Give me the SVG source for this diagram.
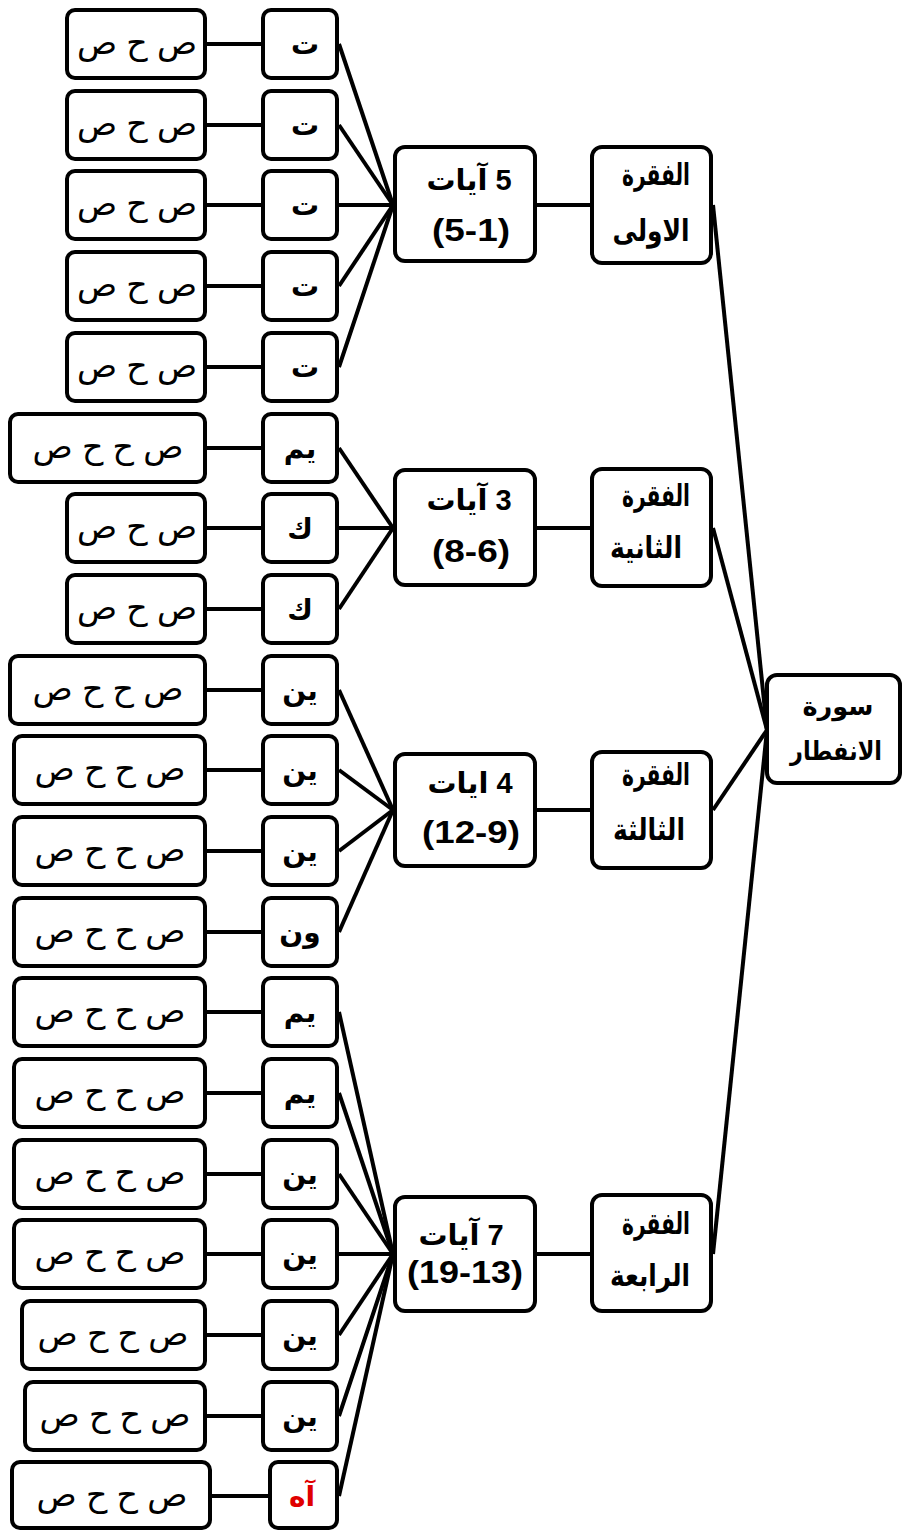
<svg xmlns="http://www.w3.org/2000/svg" width="903" height="1530" viewBox="0 0 903 1530">
<style>
rect{fill:#fff;stroke:#000;stroke-width:4}
line{stroke:#000;stroke-width:4}
text{font-family:"Liberation Sans","DejaVu Sans",sans-serif;font-weight:bold;font-size:28px;fill:#000;text-anchor:middle;direction:rtl;unicode-bidi:embed}
.s{font-size:33px;font-weight:normal}
.p{font-size:30px}
.m{font-size:26px}
.a{font-size:29px}
.d{font-size:31px;direction:ltr}
.r{fill:#e00000}
</style>
<rect x="0" y="0" width="903" height="1530" style="stroke:none"/>
<g id="connectors">
<line x1="207" y1="44" x2="263" y2="44"/>
<line x1="207" y1="125" x2="263" y2="125"/>
<line x1="207" y1="205" x2="263" y2="205"/>
<line x1="207" y1="286" x2="263" y2="286"/>
<line x1="207" y1="367" x2="263" y2="367"/>
<line x1="207" y1="448" x2="263" y2="448"/>
<line x1="207" y1="528" x2="263" y2="528"/>
<line x1="207" y1="609" x2="263" y2="609"/>
<line x1="207" y1="690" x2="263" y2="690"/>
<line x1="207" y1="770" x2="263" y2="770"/>
<line x1="207" y1="851" x2="263" y2="851"/>
<line x1="207" y1="932" x2="263" y2="932"/>
<line x1="207" y1="1012" x2="263" y2="1012"/>
<line x1="207" y1="1093" x2="263" y2="1093"/>
<line x1="207" y1="1174" x2="263" y2="1174"/>
<line x1="207" y1="1254" x2="263" y2="1254"/>
<line x1="207" y1="1335" x2="263" y2="1335"/>
<line x1="207" y1="1416" x2="263" y2="1416"/>
<line x1="212" y1="1496" x2="270" y2="1496"/>
<line x1="339" y1="44" x2="393" y2="205"/>
<line x1="339" y1="125" x2="393" y2="205"/>
<line x1="339" y1="205" x2="393" y2="205"/>
<line x1="339" y1="286" x2="393" y2="205"/>
<line x1="339" y1="367" x2="393" y2="205"/>
<line x1="339" y1="448" x2="393" y2="528"/>
<line x1="339" y1="528" x2="393" y2="528"/>
<line x1="339" y1="609" x2="393" y2="528"/>
<line x1="339" y1="690" x2="393" y2="810"/>
<line x1="339" y1="770" x2="393" y2="810"/>
<line x1="339" y1="851" x2="393" y2="810"/>
<line x1="339" y1="932" x2="393" y2="810"/>
<line x1="339" y1="1012" x2="393" y2="1254"/>
<line x1="339" y1="1093" x2="393" y2="1254"/>
<line x1="339" y1="1174" x2="393" y2="1254"/>
<line x1="339" y1="1254" x2="393" y2="1254"/>
<line x1="339" y1="1335" x2="393" y2="1254"/>
<line x1="339" y1="1416" x2="393" y2="1254"/>
<line x1="339" y1="1496" x2="393" y2="1254"/>
<line x1="537" y1="205" x2="590" y2="205"/>
<line x1="537" y1="528" x2="590" y2="528"/>
<line x1="537" y1="810" x2="590" y2="810"/>
<line x1="537" y1="1254" x2="590" y2="1254"/>
<line x1="713" y1="205" x2="767" y2="730"/>
<line x1="713" y1="528" x2="767" y2="730"/>
<line x1="713" y1="810" x2="767" y2="730"/>
<line x1="713" y1="1254" x2="767" y2="730"/>
</g>
<g id="main"><rect x="767" y="675" width="133" height="108" rx="10"/><text class="m" x="838" y="715" textLength="71" lengthAdjust="spacingAndGlyphs">سورة</text><text class="m" x="836" y="760" textLength="92" lengthAdjust="spacingAndGlyphs">الانفطار</text></g>
<g id="p1"><rect x="592" y="147" width="119" height="116" rx="10"/><text class="p" x="656" y="185" textLength="68" lengthAdjust="spacingAndGlyphs">الفقرة</text><text class="p" x="651" y="241" textLength="77" lengthAdjust="spacingAndGlyphs">الاولى</text></g>
<g id="p2"><rect x="592" y="469" width="119" height="117" rx="10"/><text class="p" x="656" y="506" textLength="68" lengthAdjust="spacingAndGlyphs">الفقرة</text><text class="p" x="646" y="558" textLength="72" lengthAdjust="spacingAndGlyphs">الثانية</text></g>
<g id="p3"><rect x="592" y="752" width="119" height="116" rx="10"/><text class="p" x="656" y="785" textLength="68" lengthAdjust="spacingAndGlyphs">الفقرة</text><text class="p" x="649" y="840" textLength="72" lengthAdjust="spacingAndGlyphs">الثالثة</text></g>
<g id="p4"><rect x="592" y="1195" width="119" height="116" rx="10"/><text class="p" x="656" y="1234" textLength="68" lengthAdjust="spacingAndGlyphs">الفقرة</text><text class="p" x="650" y="1286" textLength="80" lengthAdjust="spacingAndGlyphs">الرابعة</text></g>
<g id="a1"><rect x="395" y="147" width="140" height="114" rx="10"/><text class="a" x="469" y="190">5 آيات</text><text class="d" x="471" y="241" textLength="78" lengthAdjust="spacingAndGlyphs">(5-1)</text></g>
<g id="a2"><rect x="395" y="470" width="140" height="115" rx="10"/><text class="a" x="469" y="510">3 آيات</text><text class="d" x="471" y="562" textLength="78" lengthAdjust="spacingAndGlyphs">(8-6)</text></g>
<g id="a3"><rect x="395" y="754" width="140" height="112" rx="10"/><text class="a" x="470" y="793">4 ايات</text><text class="d" x="471" y="843" textLength="98" lengthAdjust="spacingAndGlyphs">(12-9)</text></g>
<g id="a4"><rect x="395" y="1197" width="140" height="114" rx="10"/><text class="a" x="461" y="1245">7 آيات</text><text class="d" x="465" y="1283" textLength="116" lengthAdjust="spacingAndGlyphs">(19-13)</text></g>
<g id="r0"><rect x="67" y="10" width="138" height="68" rx="8"/><text class="s" x="137" y="54" textLength="120" lengthAdjust="spacingAndGlyphs">ص ح ص</text><rect x="263" y="10" width="74" height="68" rx="8"/><text x="305" y="54">ت</text></g>
<g id="r1"><rect x="67" y="91" width="138" height="68" rx="8"/><text class="s" x="137" y="135" textLength="120" lengthAdjust="spacingAndGlyphs">ص ح ص</text><rect x="263" y="91" width="74" height="68" rx="8"/><text x="305" y="135">ت</text></g>
<g id="r2"><rect x="67" y="171" width="138" height="68" rx="8"/><text class="s" x="137" y="215" textLength="120" lengthAdjust="spacingAndGlyphs">ص ح ص</text><rect x="263" y="171" width="74" height="68" rx="8"/><text x="305" y="215">ت</text></g>
<g id="r3"><rect x="67" y="252" width="138" height="68" rx="8"/><text class="s" x="137" y="296" textLength="120" lengthAdjust="spacingAndGlyphs">ص ح ص</text><rect x="263" y="252" width="74" height="68" rx="8"/><text x="305" y="296">ت</text></g>
<g id="r4"><rect x="67" y="333" width="138" height="68" rx="8"/><text class="s" x="137" y="377" textLength="120" lengthAdjust="spacingAndGlyphs">ص ح ص</text><rect x="263" y="333" width="74" height="68" rx="8"/><text x="305" y="377">ت</text></g>
<g id="r5"><rect x="10" y="414" width="195" height="68" rx="8"/><text class="s" x="108" y="458" textLength="151" lengthAdjust="spacingAndGlyphs">ص ح ح ص</text><rect x="263" y="414" width="74" height="68" rx="8"/><text x="300" y="458">يم</text></g>
<g id="r6"><rect x="67" y="494" width="138" height="68" rx="8"/><text class="s" x="137" y="538" textLength="120" lengthAdjust="spacingAndGlyphs">ص ح ص</text><rect x="263" y="494" width="74" height="68" rx="8"/><text x="300" y="538">ك</text></g>
<g id="r7"><rect x="67" y="575" width="138" height="68" rx="8"/><text class="s" x="137" y="619" textLength="120" lengthAdjust="spacingAndGlyphs">ص ح ص</text><rect x="263" y="575" width="74" height="68" rx="8"/><text x="300" y="619">ك</text></g>
<g id="r8"><rect x="10" y="656" width="195" height="68" rx="8"/><text class="s" x="108" y="700" textLength="151" lengthAdjust="spacingAndGlyphs">ص ح ح ص</text><rect x="263" y="656" width="74" height="68" rx="8"/><text x="300" y="700">ين</text></g>
<g id="r9"><rect x="14" y="736" width="191" height="68" rx="8"/><text class="s" x="110" y="780" textLength="151" lengthAdjust="spacingAndGlyphs">ص ح ح ص</text><rect x="263" y="736" width="74" height="68" rx="8"/><text x="300" y="780">ين</text></g>
<g id="r10"><rect x="14" y="817" width="191" height="68" rx="8"/><text class="s" x="110" y="861" textLength="151" lengthAdjust="spacingAndGlyphs">ص ح ح ص</text><rect x="263" y="817" width="74" height="68" rx="8"/><text x="300" y="861">ين</text></g>
<g id="r11"><rect x="14" y="898" width="191" height="68" rx="8"/><text class="s" x="110" y="942" textLength="151" lengthAdjust="spacingAndGlyphs">ص ح ح ص</text><rect x="263" y="898" width="74" height="68" rx="8"/><text x="300" y="942">ون</text></g>
<g id="r12"><rect x="14" y="978" width="191" height="68" rx="8"/><text class="s" x="110" y="1022" textLength="151" lengthAdjust="spacingAndGlyphs">ص ح ح ص</text><rect x="263" y="978" width="74" height="68" rx="8"/><text x="300" y="1022">يم</text></g>
<g id="r13"><rect x="14" y="1059" width="191" height="68" rx="8"/><text class="s" x="110" y="1103" textLength="151" lengthAdjust="spacingAndGlyphs">ص ح ح ص</text><rect x="263" y="1059" width="74" height="68" rx="8"/><text x="300" y="1103">يم</text></g>
<g id="r14"><rect x="14" y="1140" width="191" height="68" rx="8"/><text class="s" x="110" y="1184" textLength="151" lengthAdjust="spacingAndGlyphs">ص ح ح ص</text><rect x="263" y="1140" width="74" height="68" rx="8"/><text x="300" y="1184">ين</text></g>
<g id="r15"><rect x="14" y="1220" width="191" height="68" rx="8"/><text class="s" x="110" y="1264" textLength="151" lengthAdjust="spacingAndGlyphs">ص ح ح ص</text><rect x="263" y="1220" width="74" height="68" rx="8"/><text x="300" y="1264">ين</text></g>
<g id="r16"><rect x="22" y="1301" width="183" height="68" rx="8"/><text class="s" x="113" y="1345" textLength="151" lengthAdjust="spacingAndGlyphs">ص ح ح ص</text><rect x="263" y="1301" width="74" height="68" rx="8"/><text x="300" y="1345">ين</text></g>
<g id="r17"><rect x="25" y="1382" width="180" height="68" rx="8"/><text class="s" x="115" y="1426" textLength="151" lengthAdjust="spacingAndGlyphs">ص ح ح ص</text><rect x="263" y="1382" width="74" height="68" rx="8"/><text x="300" y="1426">ين</text></g>
<g id="r18"><rect x="12" y="1462" width="198" height="66" rx="8"/><text class="s" x="112" y="1506" textLength="151" lengthAdjust="spacingAndGlyphs">ص ح ح ص</text><rect x="270" y="1462" width="67" height="66" rx="8"/><text class="r" x="302" y="1506">آه</text></g>
</svg>
